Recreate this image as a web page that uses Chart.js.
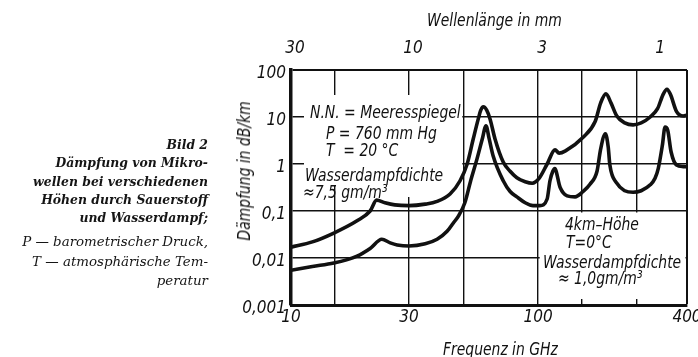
<!DOCTYPE html>
<html>
<head>
<meta charset="utf-8">
<script src="https://cdn.jsdelivr.net/npm/chart.js@4"></script>
<style>
  body { margin: 0; background: #fff; }
  #wrap { position: absolute; left: 0; top: 0; width: 698px; height: 357px; }
  .t { position: absolute; white-space: nowrap; line-height: 18px; color: #111;
       font-family: 'DejaVu Sans Condensed', 'DejaVu Sans', sans-serif;
       font-style: italic; font-size: 18px;
       transform: scaleX(0.86); transform-origin: left center; }
  .cap { position: absolute; left: 0; width: 208px; text-align: right; color: #151515;
         font-family: 'DejaVu Serif', serif; font-style: italic; white-space: nowrap; }
</style>
</head>
<body>
<div id="wrap"><canvas id="chart"></canvas></div>

<div class="cap" style="top:136px; font-size:12.4px; line-height:18.3px; font-weight:bold;">
  Bild 2<br>Dämpfung von Mikro-<br>wellen bei verschiedenen<br>Höhen durch Sauerstoff<br>und Wasserdampf;
</div>
<div class="cap" style="top:232px; font-size:13.4px; line-height:19.5px;">
  P — barometrischer Druck,<br>T — atmosphärische Tem-<br>peratur
</div>

<div class="t" style="left:427px; top:11px;">Wellenlänge in mm</div>
<div class="t" style="left:443px; top:340px;">Frequenz in GHz</div>
<div class="t" style="left:154px; top:162px; width:180px; text-align:center; transform-origin:center; transform:rotate(-90deg) scaleX(0.86);">Dämpfung in dB/km</div>

<div class="t" style="left:310px; top:103px;">N.N. = Meeresspiegel</div>
<div class="t" style="left:326px; top:124px;">P = 760 mm Hg</div>
<div class="t" style="left:326px; top:141px;">T&nbsp; = 20 °C</div>
<div class="t" style="left:305px; top:166px;">Wasserdampfdichte</div>
<div class="t" style="left:303px; top:183px;">≈7,5 gm/m³</div>

<div class="t" style="left:565px; top:215px;">4km–Höhe</div>
<div class="t" style="left:566px; top:233px;">T=0°C</div>
<div class="t" style="left:543px; top:253px;">Wasserdampfdichte</div>
<div class="t" style="left:558px; top:269px;">≈ 1,0gm/m³</div>

<script>
// Meeresspiegel (N.N.), 7,5 g/m3
let freqSea = [10, 12.2, 14.9, 18.5, 20.9, 22.2, 24, 26.3, 30, 34.9,
               39, 44, 48.3, 51.6, 54.6, 57.2, 58.6, 60, 61.9, 63.9,
               66.9, 72.2, 77, 82, 88.6, 94.6, 101, 108.7, 117, 121.5,
               129, 152, 170, 179, 188, 197, 208, 224, 242, 261,
               284, 304, 320, 332, 343, 363, 386, 400];
let dampSea = [0.017, 0.022, 0.034, 0.062, 0.10, 0.17, 0.15, 0.135, 0.13, 0.14,
               0.16, 0.23, 0.44, 1.0, 3.4, 9, 14, 16.5, 14, 9,
               3.4, 1.1, 0.7, 0.51, 0.42, 0.39, 0.5, 1.0, 2.0, 1.7,
               1.9, 3.7, 8, 20, 31, 20, 10.5, 7.5, 6.8, 7.5,
               10, 15, 30, 39, 30, 13, 10.5, 11];

// 4 km Hoehe, 1,0 g/m3
let freqHigh = [10, 12.2, 14.9, 18.5, 20.9, 23.3, 25.2, 26.9, 30, 34.9,
                39, 42.8, 45.3, 47.7, 50.5, 53.2, 56.6, 59.4, 61.5, 63.3,
                65.7, 72.2, 77, 82, 88.6, 95.3, 101.6, 108.7, 111.6, 114.6,
                116.7, 122.6, 131, 141, 152, 162, 173, 179, 187, 192,
                195, 208, 224, 242, 261, 284, 297, 306, 318, 326,
                334, 345, 363, 386, 400];
let dampHigh = [0.0055, 0.0066, 0.0078, 0.011, 0.016, 0.025, 0.021, 0.019, 0.018, 0.02,
                0.025, 0.037, 0.055, 0.08, 0.15, 0.42, 1.3, 3.4, 6.5, 3.5,
                1.5, 0.44, 0.26, 0.2, 0.15, 0.13, 0.13, 0.18, 0.44, 0.7,
                0.8, 0.32, 0.21, 0.2, 0.26, 0.37, 0.7, 2.1, 4.4, 2.3,
                0.95, 0.39, 0.27, 0.25, 0.27, 0.36, 0.5, 0.8, 2.5, 6.1,
                5.3, 1.8, 0.95, 0.88, 0.87];

let xTicks = [10, 15, 30, 50, 100, 150, 250, 400];
let xLabels = ['10', '', '30', '', '100', '', '', '400'];
let topTicks = [10, 30, 100, 300];
let topLabels = ['30', '10', '3', '1'];
let yTicks = [0.001, 0.01, 0.1, 1, 10, 100];
let yLabels = ['0,001', '0,01', '0,1', '1', '10', '100'];

const tickFont = { family: "'DejaVu Sans Condensed', 'DejaVu Sans', sans-serif", style: 'italic', size: 17 };

function toPoints(xs, ys) {
    return xs.map((f, i) => ({ x: f, y: ys[i] }));
}

// white boxes behind the labels, the grid stops there
const maskPlugin = {
    id: 'mask',
    beforeDatasetsDraw(chart) {
        const { ctx, scales: { x, y } } = chart;
        const x50 = x.getPixelForValue(50);
        const x100 = x.getPixelForValue(100);
        const y01 = y.getPixelForValue(0.1);
        ctx.save();
        ctx.fillStyle = '#fff';
        ctx.fillRect(x.left + 13, y.top + 25, x50 - 1.5 - (x.left + 13), 91);
        ctx.fillRect(x.left + 45, y.top + 116, x50 - 1.5 - (x.left + 45), 11);
        ctx.fillRect(x100 + 1.5, y01 + 1.5, x.right - 1.5 - (x100 + 1.5), y.bottom - 6 - (y01 + 1.5));
        ctx.restore();
    }
};

let line = {
    borderColor: '#111',
    borderWidth: 3.6,
    pointRadius: 0,
    fill: false,
    cubicInterpolationMode: 'monotone',
    borderJoinStyle: 'round',
    borderCapStyle: 'round'
};

let config = {
    type: 'line',
    data: {
        datasets: [
            Object.assign({ label: 'N.N.', data: toPoints(freqSea, dampSea) }, line),
            Object.assign({ label: '4 km', data: toPoints(freqHigh, dampHigh) }, line)
        ]
    },
    options: {
        animation: false,
        responsive: true,
        maintainAspectRatio: false,
        layout: { padding: { top: 0, left: 0, right: 11, bottom: 0 } },
        plugins: { legend: { display: false }, tooltip: { enabled: false } },
        scales: {
            x: {
                type: 'logarithmic', position: 'bottom', min: 10, max: 400,
                afterBuildTicks: s => { s.ticks = xTicks.map(v => ({ value: v })); },
                afterFit: s => { s.height = 52; s.paddingLeft = 0; s.paddingRight = 0; },
                ticks: {
                    autoSkip: false, maxRotation: 0, padding: 2, color: '#111', font: tickFont,
                    callback: (v, i) => xLabels[i]
                },
                grid: {
                    color: '#111', drawTicks: false,
                    lineWidth: c => (c.tick && c.tick.value === 400 ? 2 : 1.4)
                },
                border: { color: '#111', width: 3 }
            },
            x2: {
                type: 'logarithmic', position: 'top', min: 10, max: 400,
                afterBuildTicks: s => { s.ticks = topTicks.map(v => ({ value: v })); },
                afterFit: s => { s.height = 70; s.paddingLeft = 0; s.paddingRight = 0; },
                ticks: {
                    autoSkip: false, maxRotation: 0, padding: 11, labelOffset: 4, color: '#111', font: tickFont,
                    callback: (v, i) => topLabels[i]
                },
                grid: { display: false, drawTicks: false },
                border: { display: false }
            },
            y: {
                type: 'logarithmic', min: 0.001, max: 100,
                afterBuildTicks: s => { s.ticks = yTicks.map(v => ({ value: v })); },
                afterFit: s => { s.width = 291; s.paddingTop = 0; s.paddingBottom = 0; },
                ticks: {
                    autoSkip: false, padding: 5, labelOffset: 4, color: '#111', font: tickFont,
                    callback: (v, i) => yLabels[i]
                },
                grid: {
                    color: '#111', drawTicks: false,
                    lineWidth: c => (c.tick && c.tick.value === 100 ? 2 : 1.4)
                },
                border: { color: '#111', width: 3.5 }
            }
        }
    },
    plugins: [maskPlugin]
};

let chart = new Chart(document.getElementById('chart'), config);
</script>
</body>
</html>
